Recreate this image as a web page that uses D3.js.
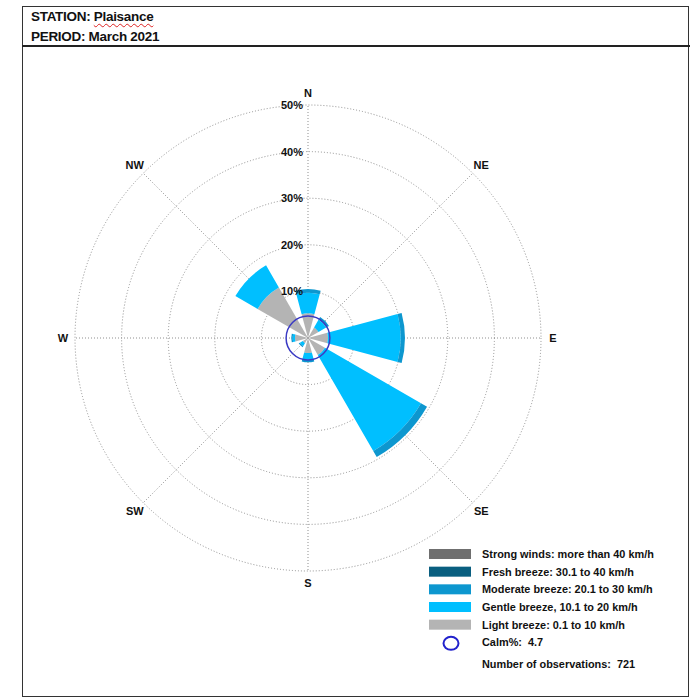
<!DOCTYPE html>
<html>
<head>
<meta charset="utf-8">
<script src="https://cdn.jsdelivr.net/npm/d3@7"></script>
<style>
  body { margin: 0; background: #fff; font-family: Arial, "Liberation Sans", sans-serif; }
  #header { position: absolute; left: 31px; top: 7px; font-family: "Liberation Sans", Arial, sans-serif;
            font-weight: bold; font-size: 13.5px; line-height: 20px; color: #111; letter-spacing: -0.3px; }
  .wavy { text-decoration: underline wavy #d22; text-decoration-thickness: 1px; text-underline-offset: 2px; }
  svg { position: absolute; left: 0; top: 0; }
</style>
</head>
<body>
<svg id="chart" width="690" height="699"></svg>
<div id="header">
  <div>STATION: <span class="wavy">Plaisance</span></div>
  <div>PERIOD: March 2021</div>
</div>
<script>
// données de la rose des vents (% des observations)
var dirs = ["N", "NE", "E", "SE", "S", "SW", "W", "NW"];
var light    = [5.3, 2.6, 4.3, 4.2, 3.2, 1.3, 2.8, 12.5];
var gentle   = [4.4, 1.9, 15.6, 23.8, 1.5, 0.7, 0.5, 5.5];
var moderate = [0.8, 0.7, 0.9, 1.5, 0.5, 0.3, 0.3, 0.0];
var fresh    = [0, 0, 0, 0, 0, 0, 0, 0];
var strong   = [0, 0, 0, 0, 0, 0, 0, 0];
var calm = 4.7;
var nObs = 721;
var rings = [10, 20, 30, 40, 50];

var keys = ["light", "gentle", "moderate", "fresh", "strong"];
var legendLabels = {
  strong: "Strong winds: more than 40 km/h",
  fresh: "Fresh breeze: 30.1 to 40 km/h",
  moderate: "Moderate breeze: 20.1 to 30 km/h",
  gentle: "Gentle breeze, 10.1 to 20 km/h",
  light: "Light breeze: 0.1 to 10 km/h"
};

var svg = d3.select("#chart");

// cadre
svg.append("rect").attr("x", 22.5).attr("y", 6.5).attr("width", 666).attr("height", 690)
  .attr("fill", "none").attr("stroke", "#333").attr("stroke-width", 1);
svg.append("line").attr("x1", 22).attr("x2", 690).attr("y1", 46).attr("y2", 46)
  .attr("stroke", "#222").attr("stroke-width", 2);

var cx = 308, cy = 338;
var r = d3.scaleLinear().domain([0, 50]).range([0, 233]);
var ang = d3.scalePoint().domain(dirs).range([0, 2 * Math.PI * 7 / 8]);
var color = d3.scaleOrdinal().domain(keys)
  .range(["#b4b4b4", "#00bfff", "#0d97cf", "#0a5f80", "#6f6f6f"]);
var halfW = 15 * Math.PI / 180;

var g = svg.append("g").attr("transform", "translate(" + cx + "," + cy + ")");

// cercles
g.selectAll("circle.ring").data(rings).enter().append("circle")
  .attr("class", "ring")
  .attr("r", function(d) { return r(d); })
  .attr("fill", "none").attr("stroke", "#8f8f8f").attr("stroke-width", 1)
  .attr("stroke-dasharray", "1,2");

// rayons
g.selectAll("line.spoke").data(dirs).enter().append("line")
  .attr("class", "spoke")
  .attr("x1", 0).attr("y1", 0)
  .attr("x2", function(d) { return r(50) * Math.sin(ang(d)); })
  .attr("y2", function(d) { return -r(50) * Math.cos(ang(d)); })
  .attr("stroke", "#8f8f8f").attr("stroke-width", 1).attr("stroke-dasharray", "1,2");

// secteurs empilés
var rows = dirs.map(function(d, i) {
  return { dir: d, light: light[i], gentle: gentle[i], moderate: moderate[i], fresh: fresh[i], strong: strong[i] };
});
var series = d3.stack().keys(keys)(rows);

var arc = d3.arc()
  .innerRadius(function(d) { return r(d[0]); })
  .outerRadius(function(d) { return r(d[1]); })
  .startAngle(function(d) { return ang(d.data.dir) - halfW; })
  .endAngle(function(d) { return ang(d.data.dir) + halfW; });

g.selectAll("g.layer").data(series).enter().append("g")
  .attr("class", "layer")
  .attr("fill", function(d) { return color(d.key); })
  .selectAll("path")
  .data(function(d) { return d.filter(function(p) { return p[1] > p[0]; }); })
  .enter().append("path")
  .attr("d", arc);

// calmes
g.append("circle").attr("r", r(calm))
  .attr("fill", "none").attr("stroke", "#3a3ac4").attr("stroke-width", 1.5);

// étiquettes %
g.selectAll("text.pct").data(rings).enter().append("text")
  .attr("class", "pct")
  .attr("x", -5)
  .attr("y", function(d) { return -r(d) + 4; })
  .attr("text-anchor", "end")
  .style("font", "bold 11px Arial, 'Liberation Sans', sans-serif")
  .attr("fill", "#111")
  .text(function(d) { return d + "%"; });

// directions
g.selectAll("text.dir").data(dirs).enter().append("text")
  .attr("class", "dir")
  .attr("x", function(d) { return 245 * Math.sin(ang(d)); })
  .attr("y", function(d) { return -245 * Math.cos(ang(d)) + 4; })
  .attr("text-anchor", "middle")
  .style("font", "bold 11px Arial, 'Liberation Sans', sans-serif")
  .attr("fill", "#111")
  .text(function(d) { return d; });

// légende
var legKeys = keys.slice().reverse();
var ly = d3.scalePoint().domain(legKeys.concat(["calm", "obs"])).range([554, 660]);
var leg = svg.append("g");
leg.selectAll("rect").data(legKeys).enter().append("rect")
  .attr("x", 429).attr("y", function(d) { return ly(d) - 5; })
  .attr("width", 42).attr("height", 10)
  .attr("fill", function(d) { return color(d); });
leg.selectAll("text.lg").data(legKeys).enter().append("text")
  .attr("class", "lg")
  .attr("x", 482).attr("y", function(d) { return ly(d) + 4; })
  .style("font", "bold 10.9px Arial, 'Liberation Sans', sans-serif")
  .attr("fill", "#111")
  .text(function(d) { return legendLabels[d]; });
leg.append("ellipse").attr("cx", 451).attr("cy", ly("calm") + 1).attr("rx", 7.5).attr("ry", 6.5)
  .attr("fill", "none").attr("stroke", "#2222cc").attr("stroke-width", 2);
leg.append("text").attr("x", 482).attr("y", ly("calm") + 4)
  .style("font", "bold 10.9px Arial, 'Liberation Sans', sans-serif").attr("fill", "#111")
  .attr("xml:space", "preserve")
  .text("Calm%:  " + calm);
leg.append("text").attr("x", 482).attr("y", ly("obs") + 8)
  .style("font", "bold 10.9px Arial, 'Liberation Sans', sans-serif").attr("fill", "#111")
  .attr("xml:space", "preserve")
  .text("Number of observations:  " + nObs);
</script>
</body>
</html>
